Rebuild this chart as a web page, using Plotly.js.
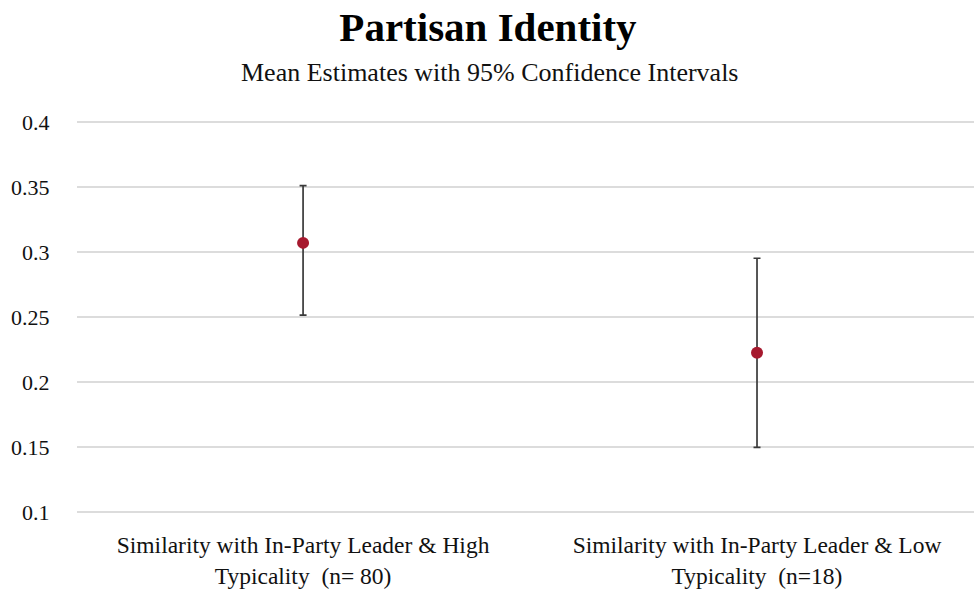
<!DOCTYPE html>
<html>
<head>
<meta charset="utf-8">
<script src="https://cdn.plot.ly/plotly-3.0.1.min.js"></script>
<style>html,body{margin:0;padding:0;background:#fff;}#chart{width:974px;height:593px;}</style>
</head>
<body>
<div id="chart"></div>
<script>
const categories = [
  "Similarity with In-Party Leader & High<br>Typicality\u00A0\u00A0(n= 80)",
  "Similarity with In-Party Leader & Low<br>Typicality\u00A0\u00A0(n=18)"
];
const means = [0.307, 0.2225];
const upper = [0.351, 0.2952];
const lower = [0.2515, 0.1498];
const yTicks = [0.1, 0.15, 0.2, 0.25, 0.3, 0.35, 0.4];
const yTickLabels = ["0.1", "0.15", "0.2", "0.25", "0.3", "0.35", "0.4"];

const serif = "Liberation Serif, Times New Roman, serif";

const trace = {
  type: "scatter",
  mode: "markers",
  x: categories,
  y: means,
  marker: {color: "#A6192E", size: 12},
  error_y: {
    type: "data",
    symmetric: false,
    array: upper.map((u, i) => u - means[i]),
    arrayminus: lower.map((l, i) => means[i] - l),
    color: "#3a3a3a",
    thickness: 1.7,
    width: 3.5
  },
  hoverinfo: "skip"
};

const layout = {
  width: 974,
  height: 593,
  margin: {l: 77, r: 0, t: 120, b: 79},
  paper_bgcolor: "#ffffff",
  plot_bgcolor: "#ffffff",
  showlegend: false,
  font: {family: serif, color: "#111111"},
  title: {
    text: "<b>Partisan Identity</b>",
    font: {family: serif, size: 41, color: "#000000"},
    x: 0.501, xanchor: "center",
    y: 0.955, yanchor: "middle",
    yref: "container"
  },
  annotations: [{
    text: "Mean Estimates with 95% Confidence Intervals",
    xref: "paper", yref: "paper",
    x: 0.46, y: 1.12,
    xanchor: "center", yanchor: "middle",
    showarrow: false,
    font: {family: serif, size: 26, color: "#111111"}
  }],
  xaxis: {
    type: "category",
    range: [-0.498, 1.478],
    showgrid: false,
    zeroline: false,
    showline: false,
    ticks: "outside",
    ticklen: 10,
    tickcolor: "rgba(0,0,0,0)",
    tickfont: {family: serif, size: 23.5, color: "#111111"},
    automargin: false
  },
  yaxis: {
    range: [0.0985, 0.4015],
    tickvals: yTicks,
    ticktext: yTickLabels,
    showgrid: true,
    gridcolor: "#dcdcdc",
    gridwidth: 1.3,
    zeroline: false,
    showline: false,
    ticks: "outside",
    ticklen: 22,
    tickcolor: "rgba(0,0,0,0)",
    tickfont: {family: serif, size: 22, color: "#111111"},
    automargin: false
  }
};

Plotly.newPlot("chart", [trace], layout, {displayModeBar: false, staticPlot: true});
</script>
</body>
</html>
